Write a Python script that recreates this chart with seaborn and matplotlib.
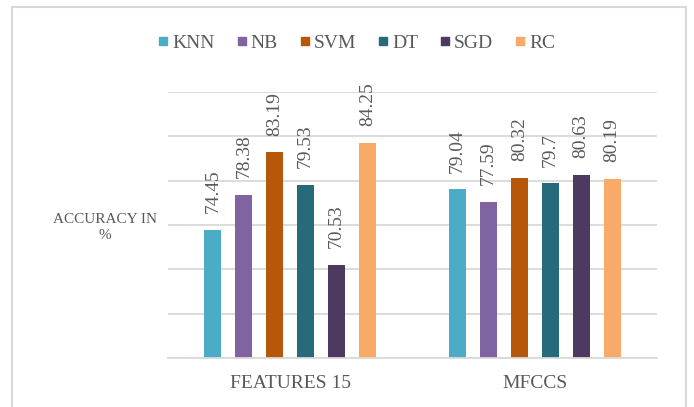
import matplotlib
matplotlib.use("Agg")
import matplotlib.pyplot as plt
from matplotlib.lines import Line2D
from matplotlib.patches import Rectangle
import pandas as pd
import seaborn as sns

# Data
feature_sets = ["FEATURES 15", "MFCCS"]
classifiers = ["KNN", "NB", "SVM", "DT", "SGD", "RC"]
acc_features15 = [74.45, 78.38, 83.19, 79.53, 70.53, 84.25]
acc_mfccs = [79.04, 77.59, 80.32, 79.7, 80.63, 80.19]
value_labels_f15 = ["74.45", "78.38", "83.19", "79.53", "70.53", "84.25"]
value_labels_mfcc = ["79.04", "77.59", "80.32", "79.7", "80.63", "80.19"]
y_ticks = [60, 65, 70, 75, 80, 85, 90]

colors = ["#4BACC6", "#8064A2", "#B75709", "#276A7C", "#4E3A61", "#F9A968"]
text_gray = "#595959"
serif = ["Liberation Serif", "DejaVu Serif"]

df = pd.DataFrame({
    "set": [feature_sets[0]] * len(classifiers) + [feature_sets[1]] * len(classifiers),
    "clf": classifiers * 2,
    "acc": acc_features15 + acc_mfccs,
})
labels = value_labels_f15 + value_labels_mfcc

sns.set_theme(style="white")
plt.rcParams["font.family"] = serif

fig = plt.figure(figsize=(6.94, 4.07), dpi=100)
ax = fig.add_axes([168 / 694, 49 / 407, 489 / 694, 266 / 407])

sns.barplot(data=df, x="set", y="acc", hue="clf", hue_order=classifiers,
            palette=colors, width=0.76, gap=0.45, ax=ax, legend=False,
            saturation=1, edgecolor="none", errorbar=None)

ax.set_ylim(60, 90)
ax.set_yticks(y_ticks)
ax.set_yticklabels([])
ax.tick_params(axis="y", length=0)
ax.yaxis.grid(True, color="#D9D9D9", linewidth=1.3)
ax.set_axisbelow(True)
for side in ["left", "right", "top"]:
    ax.spines[side].set_visible(False)
ax.spines["bottom"].set_color("#D9D9D9")
ax.spines["bottom"].set_linewidth(1.3)

ax.set_xlabel("")
ax.tick_params(axis="x", length=0, pad=12, labelsize=14, labelcolor=text_gray)
for t in ax.get_xticklabels():
    t.set_family(serif)

ax.set_ylabel("ACCURACY IN\n%", rotation=0, ha="center", va="center",
              fontsize=11, color=text_gray, linespacing=1.25)
ax.yaxis.set_label_coords(-0.129, 0.49)

# Value labels above each bar
bars = sorted([p for p in ax.patches if p.get_height() > 0], key=lambda p: p.get_x())
order = []
for gi in range(len(feature_sets)):
    for ci in range(len(classifiers)):
        order.append(gi * len(classifiers) + ci)
for bar, idx in zip(bars, order):
    ax.annotate(labels[idx], (bar.get_x() + bar.get_width() / 2, bar.get_y() + bar.get_height()),
                xytext=(0, 12), textcoords="offset points", rotation=90,
                ha="center", va="bottom", fontsize=14, color=text_gray)

# Legend
handles = [Line2D([], [], marker="s", linestyle="none", markersize=6,
                  markerfacecolor=c, markeredgecolor=c) for c in colors]
fig.legend(handles, classifiers, loc="center", bbox_to_anchor=(0.512, 0.894),
           ncol=6, frameon=False, fontsize=14, labelcolor=text_gray,
           handletextpad=0.05, columnspacing=1.0, handlelength=0.8)

# Chart frame
fig.patches.append(Rectangle((12 / 694, -0.01), (686 - 12) / 694, 1 - 7 / 407 + 0.01,
                             transform=fig.transFigure, fill=False,
                             edgecolor="#D9D9D9", linewidth=1.5))

fig.savefig("out.png", dpi=100)
